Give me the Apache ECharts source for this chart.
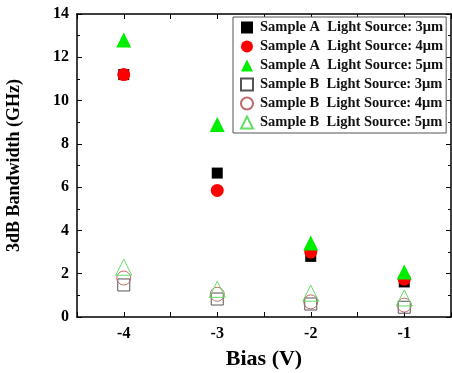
<!DOCTYPE html>
<html>
<head>
<meta charset="utf-8">
<script src="https://cdn.jsdelivr.net/npm/echarts@6/dist/echarts.min.js"></script>
<style>
  html, body { margin: 0; padding: 0; background: #fff; }
  #chart { width: 452px; height: 373px; }
</style>
</head>
<body>
<div id="chart"></div>
<script>
const bias = [-4, -3, -2, -1]
const seriesNames = [
  'Sample A  Light Source: 3μm',
  'Sample A  Light Source: 4μm',
  'Sample A  Light Source: 5μm',
  'Sample B  Light Source: 3μm',
  'Sample B  Light Source: 4μm',
  'Sample B  Light Source: 5μm',
]
const sampleA3 = [11.2, 6.65, 2.8, 1.62]
const sampleA4 = [11.2, 5.85, 3.0, 1.75]
const sampleA5 = [12.8, 8.9, 3.42, 2.08]
const sampleB3 = [1.48, 0.83, 0.6, 0.45]
const sampleB4 = [1.8, 1.05, 0.7, 0.55]
const sampleB5 = [2.3, 1.28, 1.1, 0.88]

const font = 'Liberation Serif'
const chart = echarts.init(document.getElementById('chart'))

const pairs = (vals) => bias.map((b, i) => [b, vals[i]])

const mk = (name, vals, symbol, size, fill, stroke) => ({
  name,
  type: 'scatter',
  data: pairs(vals),
  symbol,
  symbolSize: size,
  itemStyle: {
    color: fill,
    borderColor: stroke,
    borderWidth: fill === 'transparent' ? 1 : 0,
    opacity: 1,
  },
  emphasis: { disabled: true },
})

const tickStyle = { show: true, inside: true, length: 5, lineStyle: { color: '#000', width: 1 } }

chart.setOption({
  animation: false,
  grid: { left: 77, top: 14, right: 1, bottom: 56, outerBoundsMode: 'none' },
  legend: {
    left: 233,
    top: 17,
    orient: 'vertical',
    itemWidth: 12,
    itemHeight: 12,
    itemGap: 4,
    padding: [3, 3, 3, 7],
    borderColor: '#555',
    borderWidth: 1,
    backgroundColor: '#fff',
    textStyle: { fontFamily: font, fontWeight: 'bold', fontSize: 14.5, color: '#111', padding: [0, 0, 0, 2] },
    data: seriesNames,
  },
  xAxis: [
    {
      type: 'value',
      min: -4.5,
      max: -0.5,
      interval: 0.5,
      name: 'Bias (V)',
      nameLocation: 'middle',
      nameGap: 31,
      nameTextStyle: { fontFamily: font, fontWeight: 'bold', fontSize: 22, color: '#000' },
      axisLine: { show: true, onZero: false, lineStyle: { color: '#000', width: 1.5 } },
      axisTick: tickStyle,
      axisLabel: {
        fontFamily: font, fontWeight: 'bold', fontSize: 16, color: '#000', margin: 9,
        formatter: (v) => Number.isInteger(v) ? String(v) : '',
      },
      splitLine: { show: false },
    },
    {
      type: 'value',
      position: 'top',
      min: -4.5,
      max: -0.5,
      interval: 0.5,
      axisLine: { show: true, onZero: false, lineStyle: { color: '#000', width: 1.5 } },
      axisTick: tickStyle,
      axisLabel: { show: false },
      splitLine: { show: false },
    },
  ],
  yAxis: [
    {
      type: 'value',
      min: 0,
      max: 14,
      interval: 2,
      name: '3dB Bandwidth (GHz)',
      nameLocation: 'middle',
      nameGap: 54,
      nameTextStyle: { fontFamily: font, fontWeight: 'bold', fontSize: 18, color: '#000' },
      axisLine: { show: true, onZero: false, lineStyle: { color: '#000', width: 1.5 } },
      axisTick: tickStyle,
      minorTick: { show: true, splitNumber: 2, length: 3, lineStyle: { color: '#000' } },
      axisLabel: { fontFamily: font, fontWeight: 'bold', fontSize: 16, color: '#000', margin: 8 },
      splitLine: { show: false },
    },
    {
      type: 'value',
      position: 'right',
      min: 0,
      max: 14,
      interval: 2,
      axisLine: { show: true, onZero: false, lineStyle: { color: '#000', width: 1.5 } },
      axisTick: tickStyle,
      minorTick: { show: true, splitNumber: 2, length: 3, lineStyle: { color: '#000' } },
      axisLabel: { show: false },
      splitLine: { show: false },
    },
  ],
  series: [
    mk(seriesNames[0], sampleA3, 'rect', 11, '#000', '#000'),
    mk(seriesNames[1], sampleA4, 'circle', 13, '#ff0000', '#ff0000'),
    mk(seriesNames[2], sampleA5, 'triangle', 15, '#00ee00', '#00ee00'),
    mk(seriesNames[3], sampleB3, 'rect', 12, 'transparent', '#555'),
    mk(seriesNames[4], sampleB4, 'circle', 14, 'transparent', '#c06a6a'),
    mk(seriesNames[5], sampleB5, 'triangle', 16, 'transparent', '#66dd66'),
  ],
})
</script>
</body>
</html>
